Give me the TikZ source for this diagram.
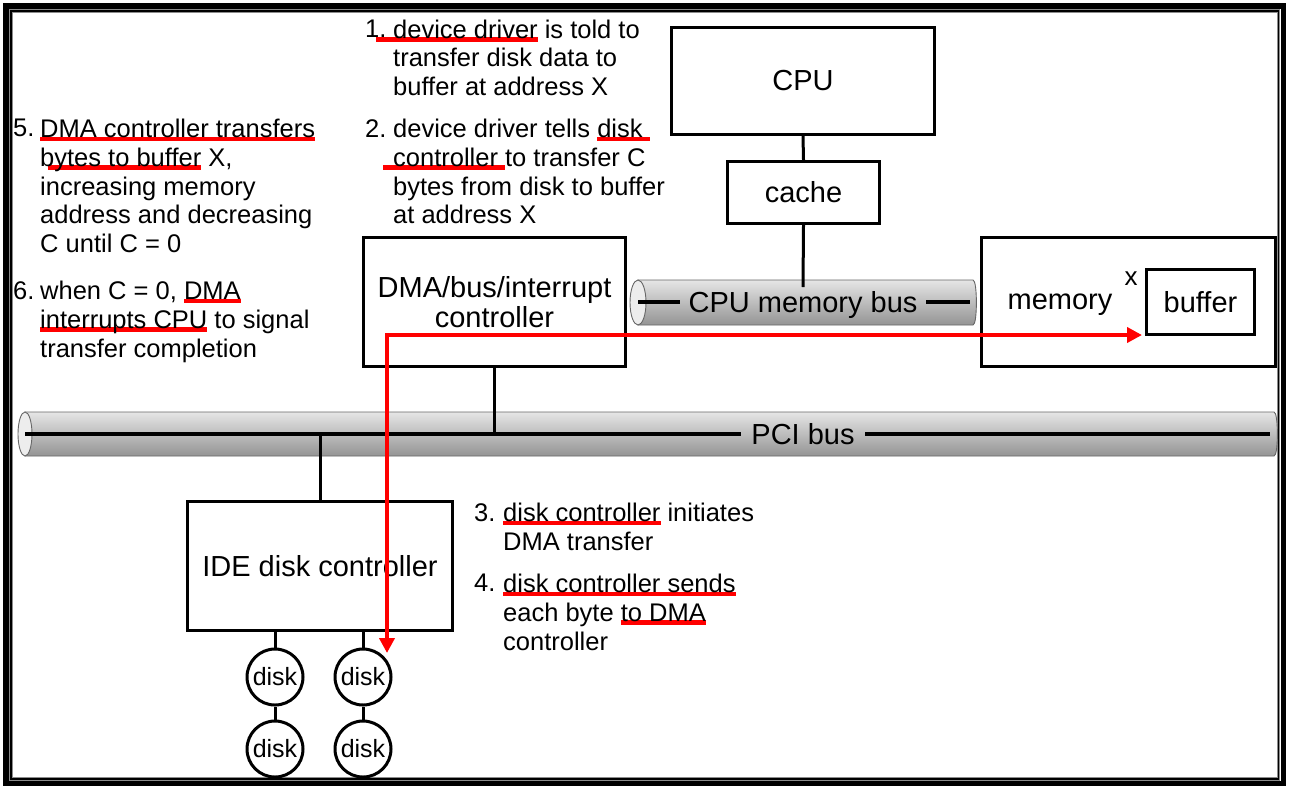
\documentclass[tikz,border=0pt]{standalone}
\usepackage{fontspec}
\setmainfont{Liberation Sans}
\usetikzlibrary{arrows.meta}
\newcommand\lblfont{\fontsize{29}{31}\selectfont}
\newcommand\annfont{\fontsize{25.5}{28.7}\selectfont}
\newcommand\diskfont{\fontsize{25}{26}\selectfont}
\newcommand\redul[2][0pt]{\setbox0\hbox{#2}\leavevmode\rlap{\kern-#1\textcolor{red}{\rule[-3.5pt]{\dimexpr\wd0+#1\relax}{4.5pt}}}\box0\relax}
\begin{document}
\begin{tikzpicture}[x=1pt,y=-1pt,
  box/.style={draw,line width=3pt,inner sep=0,font=\lblfont,align=center},
  wire/.style={line width=3pt},
  disknode/.style={draw,circle,line width=3pt,inner sep=0,minimum size=56pt,font=\diskfont,fill=white},
  ann/.style={anchor=north west,inner sep=0,align=left,font=\annfont},
  busbody/.style={draw=black!60,line width=0.9pt,top color=black!10,bottom color=black!42},
  busend/.style={draw=black!60,line width=0.9pt,fill=black!7},
  busline/.style={line width=3.2pt},
  redarr/.style={red,line width=4.8pt,{Triangle[length=15pt,width=15pt]}-{Triangle[length=15pt,width=15pt]}}
]
\useasboundingbox (0,0) rectangle (1292,788);
\fill[white] (0,0) rectangle (1292,788);
% frame
\draw[line width=5.5pt] (5.75,5.75) rectangle (1283.5,783.5);
\draw[black!45,line width=3.5pt] (10.8,10.8) rectangle (1278.5,779);
\draw[line width=1.5pt] (10.8,10.8) rectangle (1278.5,779);

% boxes
\node[box,minimum width=263pt,minimum height=107pt] (cpu) at (803,81) {CPU};
\node[box,minimum width=152pt,minimum height=62pt] (cache) at (803.5,192.5) {cache};
\node[box,minimum width=262pt,minimum height=129pt] (dma) at (494.5,302) {DMA/bus/interrupt\\[-1pt]controller};
\node[box,minimum width=294pt,minimum height=129pt] (mem) at (1128.5,302) {};
\node[font=\lblfont,inner sep=0] (memlbl) at (1060,305) {memory};
\node[box,minimum width=108pt,minimum height=65pt] (buffer) at (1200.5,302) {buffer};
\node[font=\fontsize{26}{28}\selectfont,inner sep=0] (xlbl) at (1131,279) {x};
\node[box,minimum width=265pt,minimum height=129pt] (ide) at (320,566) {IDE disk controller};

% CPU memory bus
\path[busbody] (638,280) -- (973,280) .. controls (977.5,280) and (977.5,325) .. (973,325) -- (638,325) -- cycle;
\draw[busend] (638,302.5) ellipse [x radius=8, y radius=22.5];
\coordinate (cbL) at (638,302);
\coordinate (cbR) at (970,302);
\coordinate (cbTop) at (803,287);
\node[font=\lblfont,inner xsep=8.5pt,inner ysep=0] (cpubus) at (803,305) {CPU memory bus};
\draw[busline] (cbL) -- (cpubus.west |- cbL);
\draw[busline] (cpubus.east |- cbR) -- (cbR);

% PCI bus
\path[busbody] (25,412) -- (1274,412) .. controls (1278.5,412) and (1278.5,456) .. (1274,456) -- (25,456) -- cycle;
\draw[busend] (25,434) ellipse [x radius=7, y radius=22];
\coordinate (pciL) at (25,434);
\coordinate (pciR) at (1270,434);
\node[font=\lblfont,inner xsep=10.5pt,inner ysep=0] (pci) at (803,434) {PCI bus};
\draw[busline] (pciL) -- (pci.west);
\draw[busline] (pci.east) -- (pciR);

% connectors
\draw[wire] (cpu.south) -- (cache.north);
\draw[wire] (cache.south) -- (cbTop);
\draw[wire] (dma.south) -- (dma.south |- pciL);
\draw[wire] (ide.north) -- (ide.north |- pciL);

% disks
\node[disknode] (disk1) at (275,677) {disk};
\node[disknode] (disk2) at (363,677) {disk};
\node[disknode] (disk3) at (275,749) {disk};
\node[disknode] (disk4) at (363,749) {disk};
\draw[wire] (disk1.north) -- (disk1.north |- ide.south);
\draw[wire] (disk2.north) -- (disk2.north |- ide.south);
\draw[wire] (disk1.south) -- (disk3.north);
\draw[wire] (disk2.south) -- (disk4.north);

% red arrow
\coordinate (tipD) at (387,653);
\draw[redarr] (tipD) |- ([xshift=-3pt,yshift=1pt]buffer.south west);

% annotations
\node[ann] (n1) at (365,19.5) {1.};
\node[ann] (t1) at (393,19.5) {\redul[17pt]{device driver} is told to\\transfer disk data to\\buffer at address X};
\node[ann] (n2) at (365,119) {2.};
\node[ann] (t2) at (393,119) {device driver tells \redul{disk }\\\redul[10pt]{controller }to transfer C\\bytes from disk to buffer\\at address X};
\node[ann] (n5) at (13,119) {5.};
\node[ann] (t5) at (40,119) {\redul{DMA controller transfers}\\\redul[-8pt]{bytes to buffer} X,\\increasing memory\\address and decreasing\\C until C = 0};
\node[ann] (n6) at (13,281) {6.};
\node[ann] (t6) at (40,281) {when C = 0, \redul{DMA}\\\redul{interrupts CPU} to signal\\transfer completion};
\node[ann] (n3) at (474,503) {3.};
\node[ann] (t3) at (503,503) {\redul{disk controller} initiates\\DMA transfer};
\node[ann] (n4) at (474,574) {4.};
\node[ann] (t4) at (503,574) {\redul{disk controller sends}\\each byte \redul{to DMA}\\controller};
\end{tikzpicture}
\end{document}
